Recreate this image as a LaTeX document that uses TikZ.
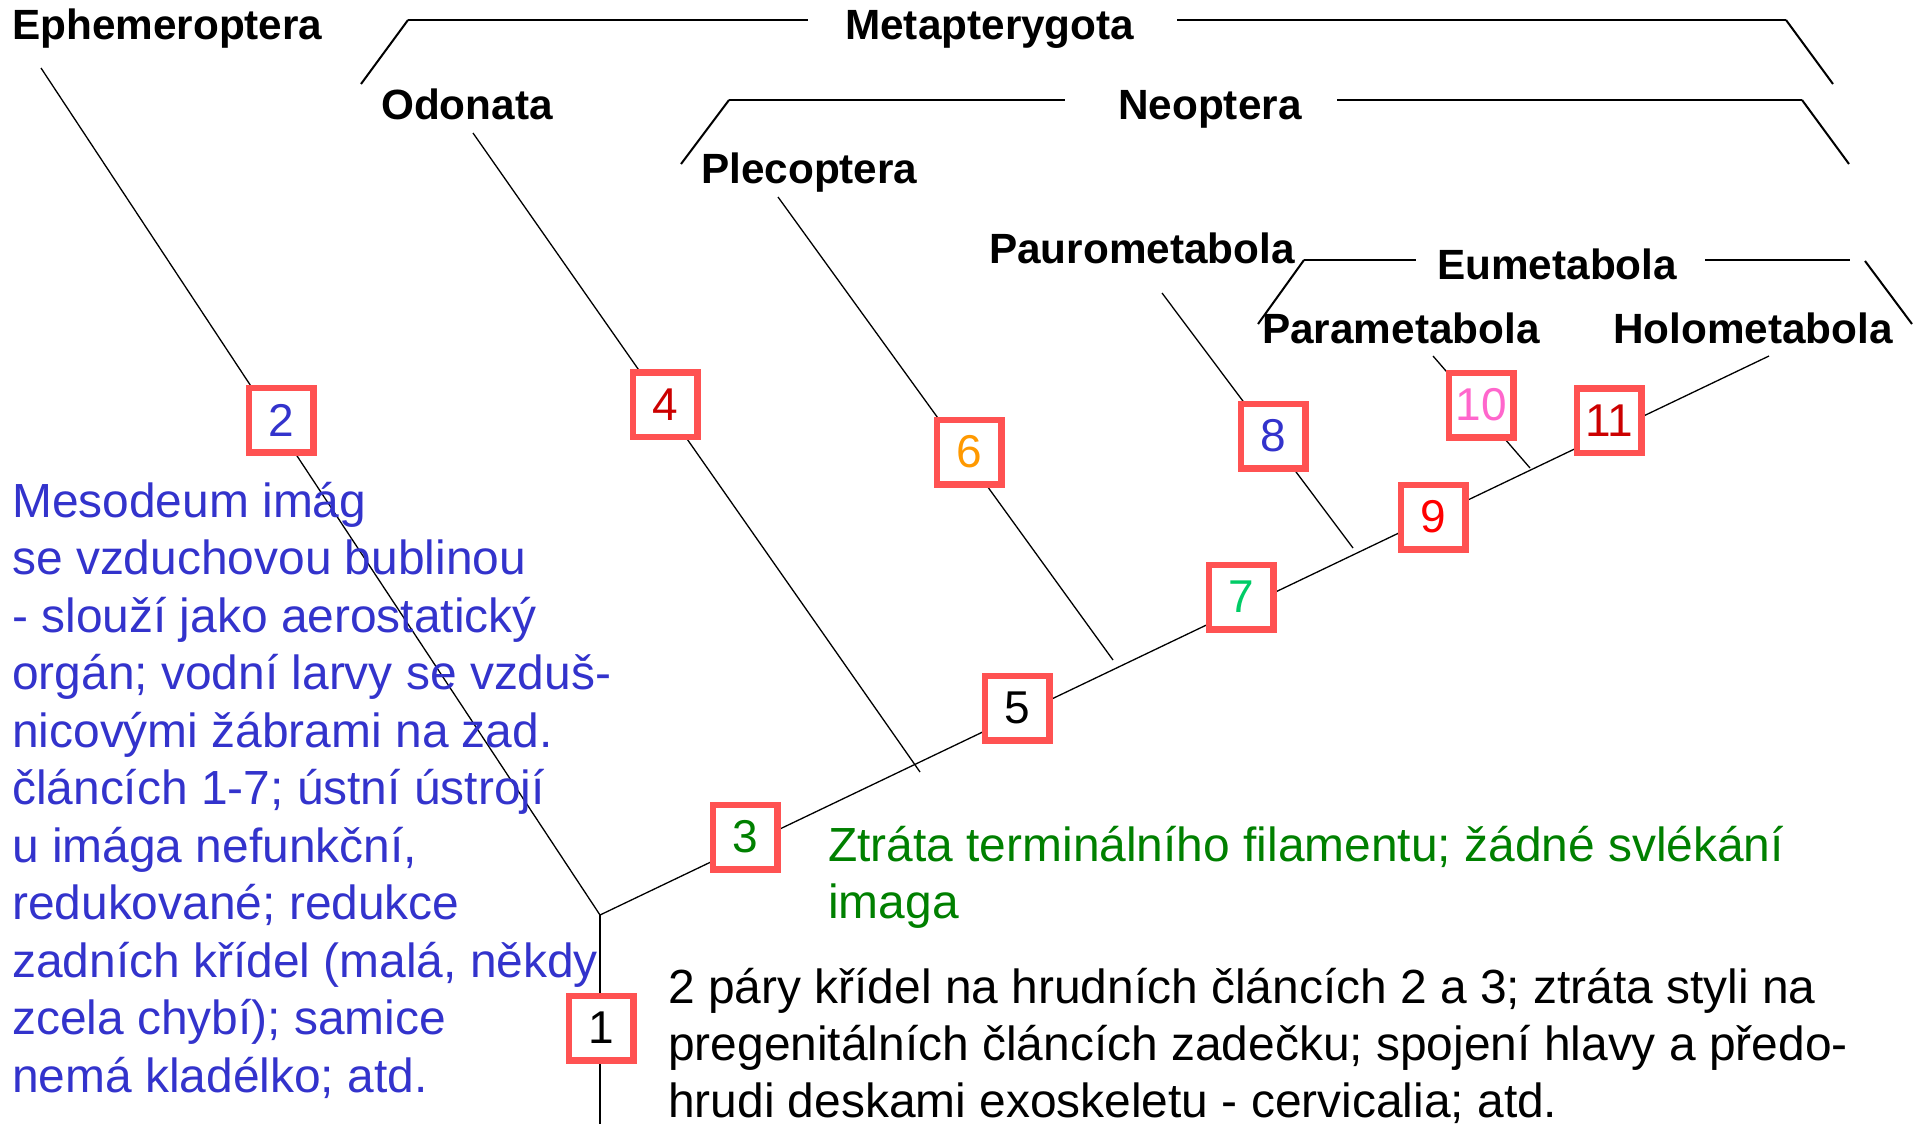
\documentclass[tikz,border=0pt]{standalone}
\usepackage{fontspec}
\setmainfont{Liberation Sans}
\definecolor{boxred}{RGB}{255,82,82}
\definecolor{txtblue}{RGB}{51,51,204}
\definecolor{txtgreen}{RGB}{0,128,0}
\definecolor{darkred}{RGB}{204,0,0}
\definecolor{orangeN}{RGB}{255,153,0}
\definecolor{greenN}{RGB}{0,204,102}
\definecolor{pinkN}{RGB}{255,102,204}
\definecolor{redN}{RGB}{255,0,0}
\begin{document}
\begin{tikzpicture}[x=1pt,y=-1pt,
  branch/.style={line width=1.3pt, black},
  rootline/.style={line width=2pt, black},
  brackh/.style={line width=2.8pt, black},
  brackd/.style={line width=2pt, black},
  numbox/.style={draw=boxred, line width=6.5pt, fill=white, minimum size=64.5pt, inner sep=0pt, font=\fontsize{46}{46}\selectfont},
  lbl/.style={anchor=base west, inner sep=0pt, font=\bfseries\fontsize{42.3}{50}\selectfont},
  txt/.style={anchor=base west, inner sep=0pt, font=\fontsize{47.9}{57}\selectfont}]
\useasboundingbox (0,0) rectangle (1919,1124);

% tree coordinates
\coordinate (root) at (600,915);
\coordinate (rootbot) at (600,1124);
\coordinate (tipE) at (41,68);
\coordinate (tipO) at (473,133);
\coordinate (tipP) at (778,197);
\coordinate (tipPa) at (1162,293);
\coordinate (tipPr) at (1433,356);
\coordinate (tipH) at (1769,356);
\coordinate (jO) at (920,772);
\coordinate (jP) at (1113,660);
\coordinate (jPa) at (1353,548);
\coordinate (jPr) at (1530,468);

% tree edges
\draw[rootline] (root) -- (rootbot);
\draw[branch] (root) -- (tipE);
\draw[branch] (root) -- (tipH);
\draw[branch] (jO) -- (tipO);
\draw[branch] (jP) -- (tipP);
\draw[branch] (jPa) -- (tipPa);
\draw[branch] (jPr) -- (tipPr);

% brackets
\draw[brackd] (361,84) -- (408,20);
\draw[brackh] (408,20) -- (808,20);
\draw[brackh] (1177,20) -- (1786,20);
\draw[brackd] (1786,20) -- (1833,84);
\draw[brackd] (681,164) -- (729,100);
\draw[brackh] (729,100) -- (1065,100);
\draw[brackh] (1337,100) -- (1802,100);
\draw[brackd] (1802,100) -- (1849,164);
\draw[brackd] (1258,324) -- (1304,260);
\draw[brackh] (1304,260) -- (1416,260);
\draw[brackh] (1705,260) -- (1850,260);
\draw[brackd] (1865,261) -- (1912,324);

% taxon labels
\node[lbl] (ephem) at (12,40) {Ephemeroptera};
\node[lbl] (meta) at (845,40) {Metapterygota};
\node[lbl] (odon) at (381,119) {Odonata};
\node[lbl] (neop) at (1118,119) {Neoptera};
\node[lbl] (plec) at (701,183) {Plecoptera};
\node[lbl] (pauro) at (989,263) {Paurometabola};
\node[lbl] (eume) at (1437,279) {Eumetabola};
\node[lbl] (para) at (1262,343) {Parametabola};
\node[lbl] (holo) at (1613,343) {Holometabola};

% numbered boxes
\node[numbox] (b1) at (601,1028) {1};
\node[numbox, text=txtblue] (b2) at (281,420) {2};
\node[numbox, text=txtgreen] (b3) at (745,837) {3};
\node[numbox, text=darkred] (b4) at (665,404.5) {4};
\node[numbox] (b5) at (1017,708) {5};
\node[numbox, text=orangeN] (b6) at (969,452) {6};
\node[numbox, text=greenN] (b7) at (1241,597) {7};
\node[numbox, text=txtblue] (b8) at (1273,436) {8};
\node[numbox, text=redN] (b9) at (1433,517) {9};
\node[numbox, text=pinkN] (b10) at (1481,405) {10};
\node[numbox, text=darkred] (b11) at (1609,420.5) {11};

% blue description
\node[txt, text=txtblue] (bl1) at (12,517) {Mesodeum imág};
\node[txt, text=txtblue] (bl2) at (12,574.5) {se vzduchovou bublinou};
\node[txt, text=txtblue] (bl3) at (12,632) {- slouží jako aerostatický};
\node[txt, text=txtblue] (bl4) at (12,689.5) {orgán; vodní larvy se vzduš-};
\node[txt, text=txtblue] (bl5) at (12,747) {nicovými žábrami na zad.};
\node[txt, text=txtblue] (bl6) at (12,804.5) {článcích 1-7; ústní ústrojí};
\node[txt, text=txtblue] (bl7) at (12,862) {u imága nefunkční,};
\node[txt, text=txtblue] (bl8) at (12,919.5) {redukované; redukce};
\node[txt, text=txtblue] (bl9) at (12,977) {zadních křídel (malá, někdy};
\node[txt, text=txtblue] (bl10) at (12,1034.5) {zcela chybí); samice};
\node[txt, text=txtblue] (bl11) at (12,1092) {nemá kladélko; atd.};

% green description
\node[txt, text=txtgreen] (gr1) at (828,861) {Ztráta terminálního filamentu; žádné svlékání};
\node[txt, text=txtgreen] (gr2) at (828,918) {imaga};

% black description
\node[txt] (bk1) at (668,1003) {2 páry křídel na hrudních článcích 2 a 3; ztráta styli na};
\node[txt] (bk2) at (668,1060) {pregenitálních článcích zadečku; spojení hlavy a předo-};
\node[txt] (bk3) at (668,1117) {hrudi deskami exoskeletu - cervicalia; atd.};
\end{tikzpicture}
\end{document}
